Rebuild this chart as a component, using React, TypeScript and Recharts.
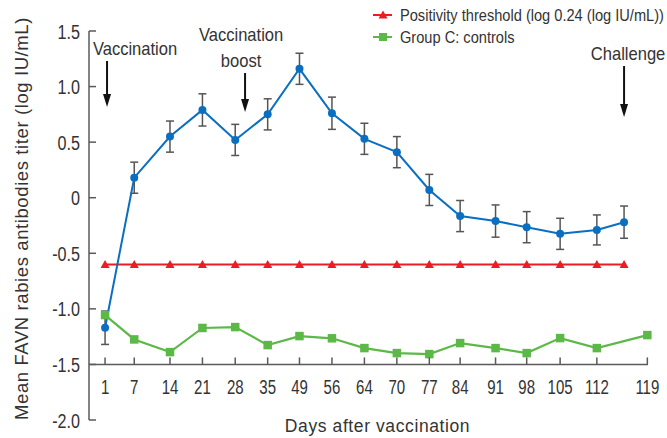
import React from 'react';
import {
  ComposedChart,
  Line,
  XAxis,
  YAxis,
  ErrorBar,
  ReferenceLine,
  ReferenceDot,
  Legend
} from 'recharts';

// x positions are slots along the axis (the axis is not linear in days)
const dayLabels = ['1', '7', '14', '21', '28', '35', '49', '56', '64', '70', '77', '84', '91', '98', '105', '112', '119'];
const dayPos = [0, 0.89, 1.98, 2.97, 3.97, 4.96, 5.93, 6.92, 7.91, 8.9, 9.89, 10.83, 11.91, 12.86, 13.88, 15.0, 16.54];
const challengePos = 15.83;

// vaccinated group, days 1..112 then the challenge point
const vaccinatedTiter = [-1.17, 0.18, 0.55, 0.79, 0.52, 0.75, 1.16, 0.76, 0.53, 0.41, 0.07, -0.165, -0.21, -0.265, -0.325, -0.29, -0.22];
const vaccinatedError = [0.15, 0.14, 0.14, 0.145, 0.14, 0.14, 0.14, 0.145, 0.14, 0.14, 0.14, 0.14, 0.145, 0.14, 0.14, 0.135, 0.145];
const thresholdValue = -0.6;
// Group C controls, days 1..119 (no sample at the challenge point)
const controlTiter = [-1.056, -1.275, -1.389, -1.172, -1.164, -1.326, -1.245, -1.265, -1.353, -1.398, -1.407, -1.308, -1.353, -1.398, -1.263, -1.353, -1.236];

const yTicks = [-2, -1.5, -1, -0.5, 0, 0.5, 1, 1.5];
const Y_MIN = -2;
const Y_MAX = 1.5;
const X_DOMAIN: [number, number] = [-0.49, 16.56];

const annotations = [
  { x: 0.06, y: 0.816, lines: ['Vaccination'], arrow: 46, dx: 28 },
  { x: 4.27, y: 0.771, lines: ['Vaccination', 'boost'], arrow: 39, dx: -4 },
  { x: 15.83, y: 0.726, lines: ['Challenge'], arrow: 51, dx: 4 }
];

const BLUE = '#0b6fc1';
const RED = '#ec1c24';
const GREEN = '#5cb947';
const TEXT = '#333333';
const AXIS = '#5a5a5a';
const FONT = "'Liberation Sans', Arial, sans-serif";

const WIDTH = 667;
const HEIGHT = 438;
const MARGIN = { top: 31, right: 19, bottom: 0, left: 0 };
const Y_AXIS_W = 89;
const X_AXIS_H = 18;
const PLOT_H = HEIGHT - MARGIN.top - MARGIN.bottom - X_AXIS_H;
// horizontal axis is drawn at y = -1.5, not at the bottom of the plot
const AXIS_Y = MARGIN.top + ((Y_MAX + 1.5) / (Y_MAX - Y_MIN)) * PLOT_H;

const rows: any[] = [];
for (let i = 0; i < 16; i++) {
  rows.push({ pos: dayPos[i], vacc: vaccinatedTiter[i], err: vaccinatedError[i], threshold: thresholdValue, control: controlTiter[i] });
}
rows.push({ pos: challengePos, vacc: vaccinatedTiter[16], err: vaccinatedError[16], threshold: thresholdValue, control: null });
rows.push({ pos: dayPos[16], vacc: null, err: null, threshold: null, control: controlTiter[16] });

const legendItems = [
  { name: 'Positivity threshold (log 0.24 (log IU/mL))', color: RED, marker: 'triangle' },
  { name: 'Group C: controls', color: GREEN, marker: 'square' }
];

// condensed look: Arial squeezed horizontally
const NText = ({ x, y, size, sx = 1, anchor = 'start', spacing = 0, rotate = 0, children }: any) => (
  <text
    transform={`translate(${x},${y}) rotate(${rotate}) scale(${sx},1)`}
    x={0}
    y={0}
    textAnchor={anchor}
    fontSize={size}
    fill={TEXT}
    fontFamily={FONT}
    letterSpacing={spacing}
  >
    {children}
  </text>
);

const Triangle = (props: any) => {
  const { cx, cy } = props;
  if (cx == null || cy == null) return null;
  return <path key={props.key} d={`M${cx - 4.5},${cy + 3.5}L${cx + 4.5},${cy + 3.5}L${cx},${cy - 4.5}Z`} fill={RED} />;
};

const Square = (props: any) => {
  const { cx, cy } = props;
  if (cx == null || cy == null) return null;
  return <rect key={props.key} x={cx - 4.25} y={cy - 4.25} width={8.5} height={8.5} fill={GREEN} />;
};

const XTick = (props: any) => {
  const { x, payload } = props;
  const label = dayLabels[dayPos.indexOf(payload.value)];
  return (
    <g>
      <line x1={x} x2={x} y1={AXIS_Y} y2={AXIS_Y - 7} stroke={AXIS} strokeWidth={1.5} />
      <NText x={x} y={AXIS_Y + 29.5} size={19.5} sx={0.77} anchor="middle">{label}</NText>
    </g>
  );
};

const YTick = (props: any) => {
  const { y, payload } = props;
  const v = payload.value;
  return (
    <g>
      <line x1={Y_AXIS_W} x2={Y_AXIS_W + 7} y1={y} y2={y} stroke={AXIS} strokeWidth={1.5} />
      <NText x={80} y={y + 7.5} size={19.5} sx={0.83} anchor="end">{v === 0 ? '0' : v.toFixed(1)}</NText>
    </g>
  );
};

const Arrow = ({ cx, cy, lines, arrow, dx }: any) => {
  if (cx == null || cy == null) return null;
  const top = cy - arrow;
  return (
    <g>
      <line x1={cx} x2={cx} y1={top} y2={cy - 10} stroke="#111" strokeWidth={2} />
      <path d={`M${cx - 4},${cy - 13}L${cx + 4},${cy - 13}L${cx},${cy}Z`} fill="#111" />
      {lines.map((t: string, i: number) => (
        <NText key={t} x={cx + dx} y={top - 6 - (lines.length - 1 - i) * 26} size={18.6} sx={0.89} anchor="middle">
          {t}
        </NText>
      ))}
    </g>
  );
};

const LegendContent = () => (
  <svg width={300} height={50} style={{ display: 'block' }}>
    {legendItems.map((item, i) => {
      const cy = 11 + i * 22;
      return (
        <g key={item.name}>
          <line x1={3} x2={22} y1={cy} y2={cy} stroke={item.color} strokeWidth={2} />
          {item.marker === 'triangle'
            ? <path d={`M8.5,${cy + 3.5}L17.5,${cy + 3.5}L13,${cy - 4.5}Z`} fill={item.color} />
            : <rect x={9} y={cy - 4} width={8} height={8} fill={item.color} />}
          <NText x={30} y={cy + 6.2} size={17.2} sx={0.85}>{item.name}</NText>
        </g>
      );
    })}
  </svg>
);

export default function App() {
  return (
    <div style={{ position: 'absolute', left: 0, top: 0, background: '#fff' }}>
      <ComposedChart width={WIDTH} height={HEIGHT} data={rows} margin={MARGIN}>
        <XAxis
          dataKey="pos"
          type="number"
          domain={X_DOMAIN}
          ticks={dayPos}
          interval={0}
          axisLine={false}
          tickLine={false}
          height={X_AXIS_H}
          tick={(p: any) => <XTick {...p} />}
          label={{
            content: (p: any) => (
              <NText x={p.viewBox.x + p.viewBox.width / 2 + 9} y={AXIS_Y + 68} size={17.5} spacing={0.6} anchor="middle">
                Days after vaccination
              </NText>
            )
          }}
        />
        <YAxis
          type="number"
          domain={[Y_MIN, Y_MAX]}
          ticks={yTicks}
          interval={0}
          width={Y_AXIS_W}
          axisLine={{ stroke: AXIS, strokeWidth: 1.5 }}
          tickLine={false}
          tick={(p: any) => <YTick {...p} />}
          label={{
            content: (p: any) => (
              <NText x={28} y={p.viewBox.y + p.viewBox.height / 2 - 7} size={18.5} spacing={0.6} rotate={-90} anchor="middle">
                Mean FAVN rabies antibodies titer (log IU/mL)
              </NText>
            )
          }}
        />
        <ReferenceLine y={-1.5} stroke={AXIS} strokeWidth={1.5} />
        <Legend
          layout="vertical"
          align="center"
          verticalAlign="middle"
          content={() => <LegendContent />}
          wrapperStyle={{ left: 370, top: 4, width: 300 }}
        />
        <Line
          dataKey="control"
          name="Group C: controls"
          stroke={GREEN}
          strokeWidth={2.2}
          dot={(p: any) => <Square {...p} />}
          activeDot={false}
          connectNulls
          isAnimationActive={false}
        />
        <Line
          dataKey="threshold"
          name="Positivity threshold"
          stroke={RED}
          strokeWidth={2}
          dot={(p: any) => <Triangle {...p} />}
          activeDot={false}
          isAnimationActive={false}
        />
        <Line
          dataKey="vacc"
          legendType="none"
          stroke={BLUE}
          strokeWidth={2}
          dot={{ r: 4, fill: BLUE, stroke: BLUE, strokeWidth: 0 }}
          activeDot={false}
          isAnimationActive={false}
        >
          <ErrorBar dataKey="err" direction="y" width={4} stroke="#555" strokeWidth={1.5} />
        </Line>
        {annotations.map(a => (
          <ReferenceDot
            key={a.x}
            x={a.x}
            y={a.y}
            r={0}
            ifOverflow="visible"
            shape={(p: any) => <Arrow {...p} lines={a.lines} arrow={a.arrow} dx={a.dx} />}
          />
        ))}
      </ComposedChart>
    </div>
  );
}
